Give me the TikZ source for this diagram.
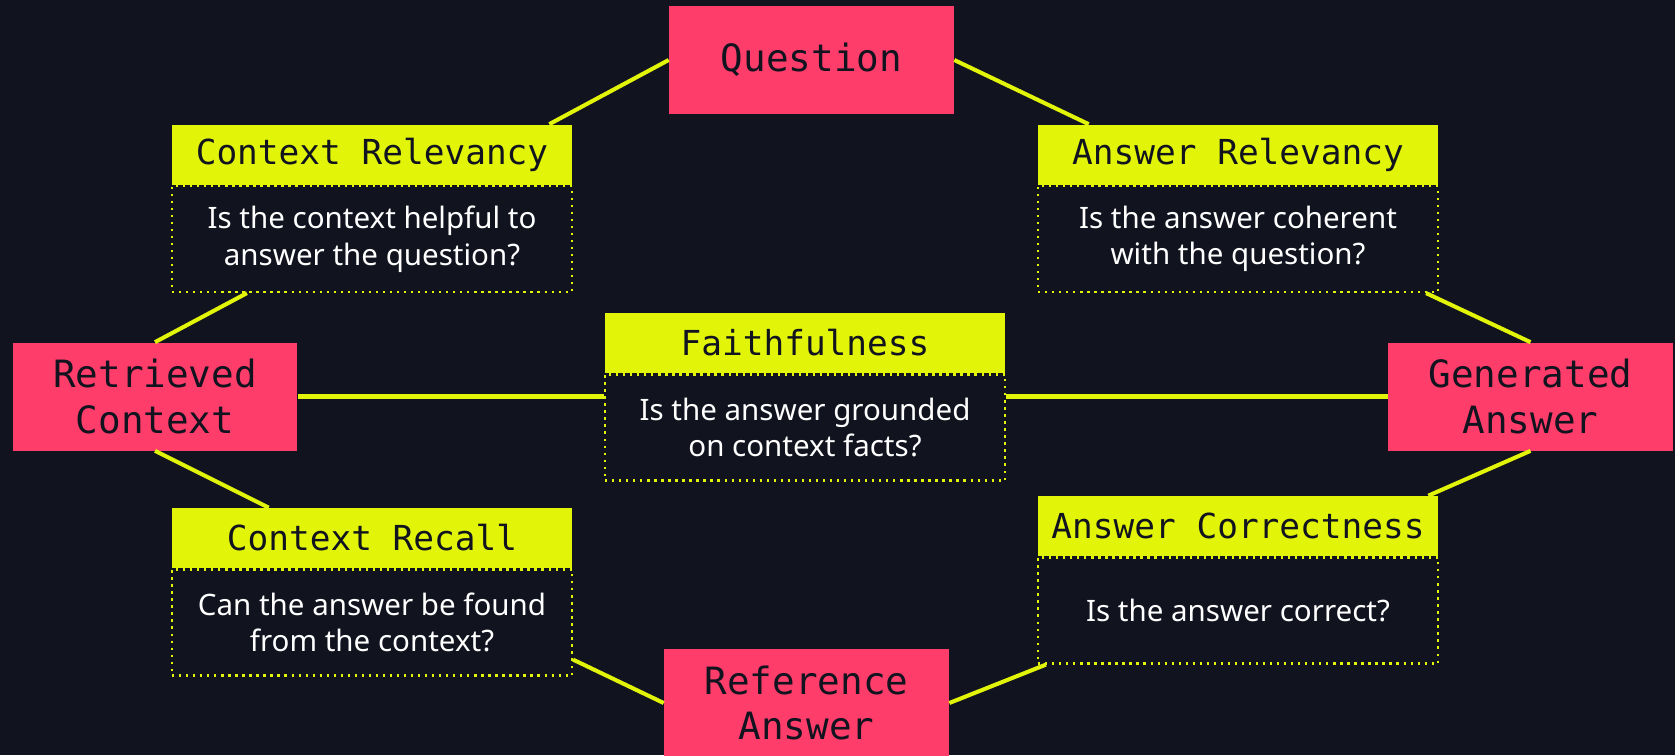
\documentclass[tikz,border=0pt]{standalone}
\usepackage{fontspec}
\setmainfont{Noto Sans}
\newfontfamily\monofont{DejaVu Sans Mono}
\usetikzlibrary{positioning,calc}
\definecolor{night}{RGB}{17,19,31}
\definecolor{rose}{RGB}{255,61,107}
\definecolor{lime}{RGB}{226,245,8}
\tikzset{
  src/.style={fill=rose,minimum width=5.7cm,minimum height=2.16cm,inner sep=0pt,
    align=center,text=night,font=\monofont\fontsize{21.4}{26}\selectfont},
  head/.style={fill=lime,minimum width=8cm,minimum height=1.2cm,inner sep=0pt,
    text=night,font=\monofont\fontsize{19.6}{23}\selectfont},
  body/.style={draw=lime,line width=1.3pt,dash pattern=on 1.3pt off 2.7pt,
    minimum width=8cm,minimum height=2.12cm,inner sep=0pt,align=center,
    text=white,font=\fontsize{16.8}{20.8}\selectfont},
  link/.style={draw=lime,line width=2.3pt},
}
\begin{document}
\begin{tikzpicture}[x=0.02cm,y=-0.02cm]
  \path[fill=night,use as bounding box] (0,0) rectangle (1675,755);
  % inputs and outputs
  \node[src] (q) at (811.5,60) {Question};
  \node[src] (rc) at (155,396.5) {Retrieved\\Context};
  \node[src] (ga) at (1530.5,396.5) {Generated\\Answer};
  \node[src] (ra) at (806.5,703) {Reference\\Answer};
  % metric cards
  \node[head] (crh) at (372,154.5) {Context Relevancy};
  \node[body,below=0pt of crh] (crb) {Is the context helpful to\\answer the question?};
  \node[head] (arh) at (1238,154.5) {Answer Relevancy};
  \node[body,below=0pt of arh] (arb) {Is the answer coherent\\with the question?};
  \node[head] (fh) at (805,343) {Faithfulness};
  \node[body,below=0pt of fh] (fb) {Is the answer grounded\\on context facts?};
  \node[head] (ech) at (372,538) {Context Recall};
  \node[body,below=0pt of ech] (ecb) {Can the answer be found\\from the context?};
  \node[head] (ach) at (1238,526) {Answer Correctness};
  \node[body,below=0pt of ach] (acb) {Is the answer correct?};
  % links
  \draw[link] (q.west) -- ([xshift=-0.46cm]crh.north east);
  \draw[link] (q.east) -- ([xshift=1.02cm]arh.north west);
  \draw[link] ([xshift=1.52cm]crb.south west) -- (rc.north);
  \draw[link] ([xshift=-0.26cm]arb.south east) -- (ga.north);
  \draw[link] (rc.east) -- (rc.east -| fb.west);
  \draw[link] (ga.west) -- (ga.west -| fb.east);
  \draw[link] (rc.south) -- ([xshift=1.94cm]ech.north west);
  \draw[link] (ga.south) -- ([xshift=-0.2cm]ach.north east);
  \draw[link] ([yshift=0.34cm]ecb.south east) -- (ra.west);
  \draw[link] ([xshift=0.18cm]acb.south west) -- (ra.east);
\end{tikzpicture}
\end{document}
